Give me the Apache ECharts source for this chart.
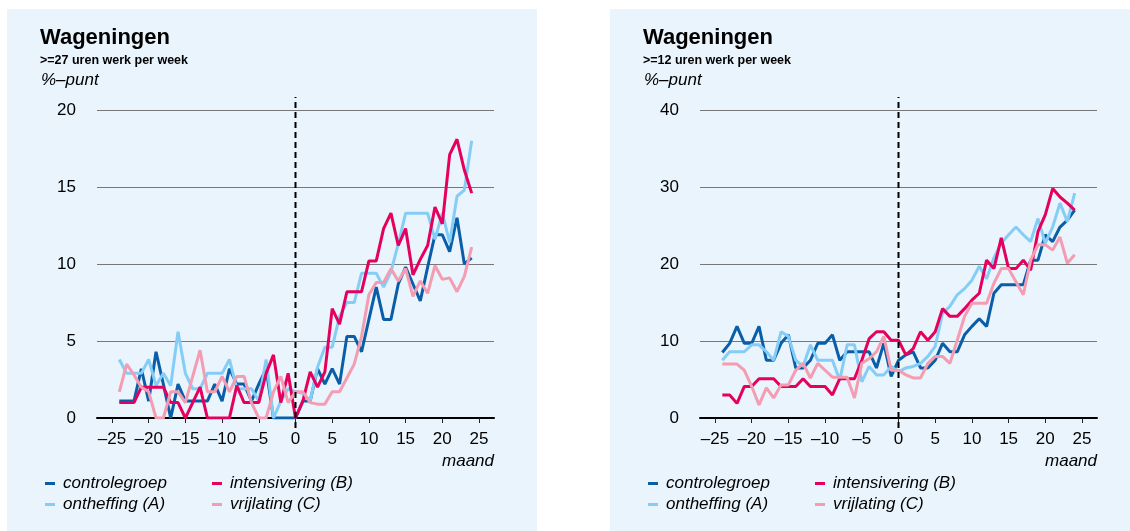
<!DOCTYPE html>
<html>
<head>
<meta charset="utf-8">
<script src="https://cdn.jsdelivr.net/npm/echarts@6/dist/echarts.min.js"></script>
<style>
  html, body { margin: 0; padding: 0; background: #ffffff; width: 1130px; height: 531px; overflow: hidden; }
  .panel { position: absolute; background: #eaf4fd; }
  #left { left: 7px; top: 9px; width: 530px; height: 522px; }
  #right { left: 610px; top: 9px; width: 520px; height: 522px; }
</style>
</head>
<body>
<div id="left" class="panel"></div>
<div id="right" class="panel"></div>
<script>
// ---- data ----
const months = [-24,-23,-22,-21,-20,-19,-18,-17,-16,-15,-14,-13,-12,-11,-10,-9,-8,-7,-6,-5,-4,-3,-2,-1,0,
                1,2,3,4,5,6,7,8,9,10,11,12,13,14,15,16,17,18,19,20,21,22,23,24];
const xTicks = [-25,-20,-15,-10,-5,0,5,10,15,20,25];
const seriesNames = ['controlegroep','ontheffing (A)','intensivering (B)','vrijlating (C)'];

// >=27 uren werk per week
const ctrl27 = [1.1,1.1,1.1,3.2,1.1,4.3,2.2,0,2.2,1.1,1.1,1.1,1.1,2.2,1.1,3.2,2.2,2.2,1.1,2.2,3.2,0,0,0,0,
                1.1,1.1,3.2,2.2,3.2,2.2,5.3,5.3,4.3,6.4,8.5,6.4,6.4,8.7,9.8,8.7,7.6,9.8,11.9,11.9,10.8,13.0,10.0,10.4];
const ont27  = [3.8,2.9,2.9,2.9,3.8,2.1,2.9,2.1,5.6,2.9,1.9,1.9,2.9,2.9,2.9,3.8,1.9,1.9,1.9,1.1,3.8,0,1.1,1.9,1.7,
                1.6,1.1,3.3,4.6,4.6,6.6,7.5,7.5,9.4,9.4,9.4,8.5,9.5,11.3,13.3,13.3,13.3,13.3,11.6,13.3,11.4,14.4,14.8,18.0];
const int27  = [1.0,1.0,1.0,2.0,2.0,2.0,2.0,1.0,1.0,0,1.0,2.0,0,0,0,0,2.1,1.0,1.0,1.0,2.9,4.1,1.0,2.9,0,
                1.1,3.0,2.0,3.0,7.1,6.1,8.2,8.2,8.2,10.2,10.2,12.3,13.3,11.2,12.3,9.3,10.3,11.2,13.7,12.6,17.1,18.1,16.1,14.6];
const vri27  = [1.7,3.5,2.8,2.0,1.7,0,0,1.7,1.7,1.0,2.7,4.4,1.7,1.7,2.7,1.7,2.7,2.7,1.0,0,0,1.7,2.7,1.0,1.7,
                1.7,1.0,0.9,0.9,1.7,1.7,2.6,3.5,5.3,8.0,8.8,8.8,9.7,8.9,9.7,7.9,8.9,8.1,9.9,9.0,9.1,8.2,9.2,11.1];
const yTicks27 = [0,5,10,15,20];

// >=12 uren werk per week
const ctrl12 = [8.5,9.7,11.9,9.7,9.7,11.9,7.5,7.5,9.7,10.8,6.5,6.5,7.5,9.7,9.7,10.8,7.5,8.6,8.6,8.6,8.6,6.5,9.7,5.4,7.5,
                8.2,8.6,6.5,6.5,7.5,9.7,8.6,8.6,10.8,11.9,12.9,11.9,16.2,17.3,17.3,17.3,17.3,20.5,20.5,23.8,22.9,24.8,25.7,27.0];
const ont12  = [7.5,8.6,8.6,8.6,9.5,9.5,8.6,7.5,11.2,10.6,7.5,6.7,9.5,7.5,7.5,7.5,4.9,9.5,9.5,4.7,6.7,5.6,5.6,6.7,6.0,
                6.5,6.7,7.1,8.0,9.3,13.6,14.5,16.0,16.8,17.9,19.7,18.1,20.8,22.7,23.8,24.8,23.8,22.9,25.9,22.7,24.8,27.9,25.5,29.2];
const int12  = [3.0,3.0,1.9,4.1,4.1,5.1,5.1,5.1,4.1,4.1,4.1,5.1,4.1,4.1,4.1,3.0,5.1,5.1,5.1,7.5,10.3,11.2,11.2,10.1,10.1,
                8.2,9.0,11.2,10.1,11.2,14.2,13.2,13.2,14.2,15.3,16.2,20.5,19.4,23.4,19.4,19.4,20.5,19.2,24.2,26.4,29.8,28.7,27.9,27.0];
const vri12  = [7.0,7.0,7.0,6.2,4.1,1.7,3.9,2.6,4.3,4.3,6.2,7.1,5.2,7.1,6.2,5.3,5.3,5.3,2.6,7.1,7.7,8.6,10.6,6.2,6.2,
                5.6,5.2,5.2,7.1,8.0,8.0,7.1,10.1,13.2,14.9,14.9,14.9,17.5,19.4,19.4,17.7,16.0,20.5,22.5,22.5,21.8,23.5,20.1,21.2];
const yTicks12 = [0,10,20,30,40];

// ---- styles ----
const colors = ['#0a5ea8', '#84cdf7', '#e5005e', '#f39cb2'];
const FONT = '"Liberation Sans", Arial, Helvetica, sans-serif';

function pairs(vals) { return months.map((m, i) => [m, vals[i]]); }

function build(el, subtitle, yTicks, vals, dashExt) {
  const chart = echarts.init(document.getElementById(el), null, { renderer: 'canvas' });
  const yMin = yTicks[0], yMax = yTicks[yTicks.length - 1];
  const yInt = yTicks[1] - yTicks[0];
  const lineSeries = vals.map((v, i) => ({
    name: seriesNames[i],
    type: 'line',
    data: pairs(v),
    symbol: 'none',
    showSymbol: false,
    lineStyle: { color: colors[i], width: 3 },
    itemStyle: { color: colors[i] },
    emphasis: { disabled: true },
    z: 2 + i
  }));
  lineSeries.push({
    name: 'nul',
    type: 'line',
    data: [[0, dashExt[0]], [0, dashExt[1]]],
    clip: false,
    symbol: 'none',
    lineStyle: { color: '#000', width: 2, type: [6, 4] },
    emphasis: { disabled: true },
    silent: true,
    z: 10
  });
  const legendText = { fontFamily: FONT, fontSize: 17, fontStyle: 'italic', color: '#000', lineHeight: 21, padding: [0, 0, 0, 3] };
  chart.setOption({
    animation: false,
    grid: { left: 90, top: 101, width: 397, height: 308, containLabel: false },
    xAxis: {
      type: 'value',
      min: -27.04, max: 27.04,
      axisLine: { show: true, onZero: true, lineStyle: { color: '#000', width: 2 } },
      axisTick: { show: true, customValues: xTicks, length: 5, lineStyle: { color: '#222', width: 1 } },
      axisLabel: {
        customValues: xTicks, margin: 13,
        fontFamily: FONT, fontSize: 17, color: '#000',
        formatter: v => (v < 0 ? '\u2013' + (-v) : String(v))
      },
      splitLine: { show: false }
    },
    yAxis: {
      type: 'value',
      min: yMin, max: yMax, interval: yInt,
      axisLine: { show: false },
      axisTick: { show: false },
      axisLabel: { margin: 21, fontFamily: FONT, fontSize: 17, color: '#000' },
      splitLine: { show: true, lineStyle: { color: '#777', width: 1 } }
    },
    legend: [
      { data: [seriesNames[0], seriesNames[1]], orient: 'vertical', left: 38, top: 464, padding: 0,
        icon: 'rect', itemWidth: 10, itemHeight: 3, itemGap: 0, textStyle: legendText, selectedMode: false },
      { data: [seriesNames[2], seriesNames[3]], orient: 'vertical', left: 205, top: 464, padding: 0,
        icon: 'rect', itemWidth: 10, itemHeight: 3, itemGap: 0, textStyle: legendText, selectedMode: false }
    ],
    graphic: [
      { type: 'text', x: 33, y: 29, style: { text: 'Wageningen', font: 'bold 22px ' + FONT, fill: '#000', verticalAlign: 'middle' } },
      { type: 'text', x: 33, y: 52, style: { text: subtitle, font: 'bold 12.5px ' + FONT, fill: '#000', verticalAlign: 'middle' } },
      { type: 'text', x: 34, y: 71, style: { text: '%\u2013punt', font: 'italic 17px ' + FONT, fill: '#000', verticalAlign: 'middle' } },
      { type: 'text', x: 487, y: 452, style: { text: 'maand', font: 'italic 17px ' + FONT, fill: '#000', align: 'right', verticalAlign: 'middle' } }
    ],
    series: lineSeries
  });
}

build('left', '>=27 uren werk per week', yTicks27, [ctrl27, ont27, int27, vri27], [-0.65, 20.85]);
build('right', '>=12 uren werk per week', yTicks12, [ctrl12, ont12, int12, vri12], [-1.3, 41.7]);
</script>
</body>
</html>
